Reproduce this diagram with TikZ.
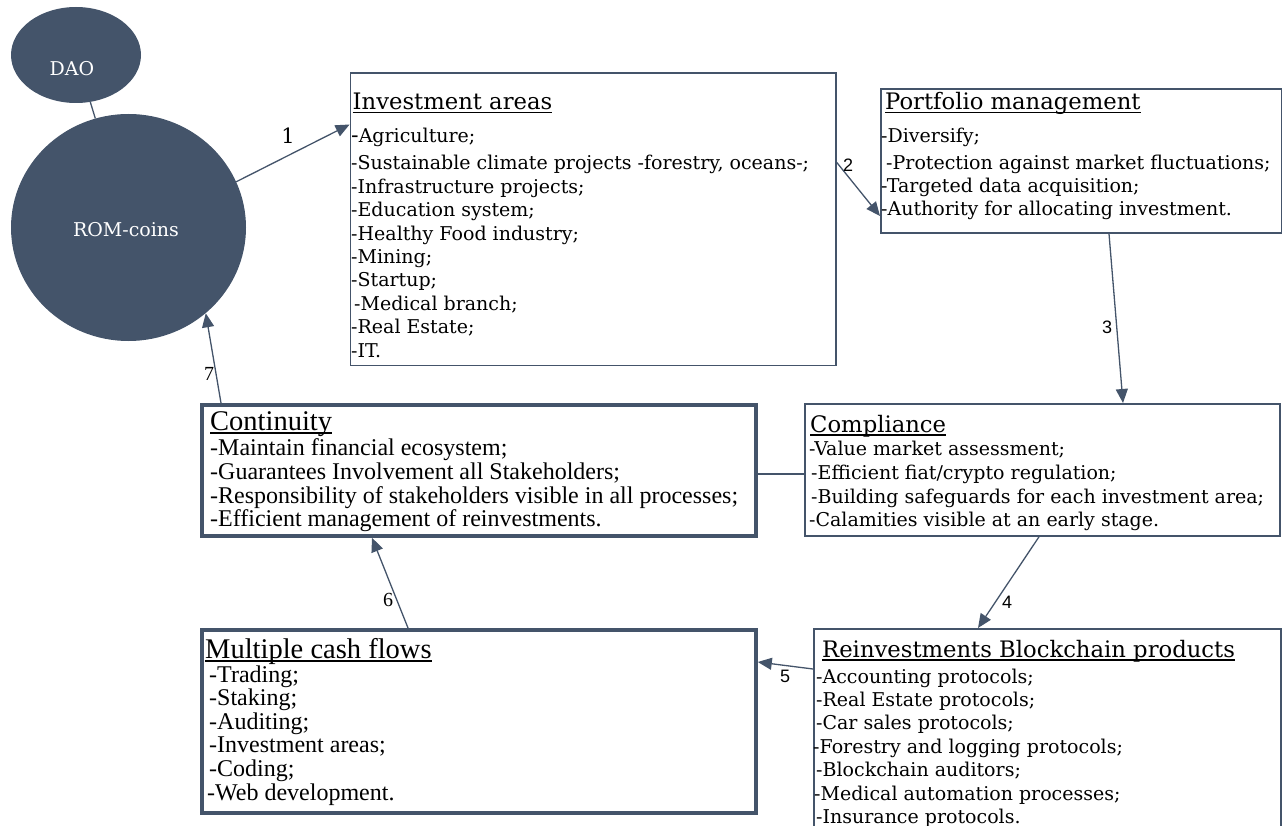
\documentclass[tikz,border=0pt]{standalone}
\usepackage{fontspec}
\setmainfont{DejaVu Serif}
\newfontfamily\tnr{Liberation Serif}
\newfontfamily\arl{Liberation Sans}
\newfontfamily\djs{DejaVu Sans}
\usetikzlibrary{arrows.meta,calc,shapes.geometric}
\definecolor{slate}{HTML}{44546A}
\newcommand\myul[1]{\setbox0\hbox{#1}\rlap{\rule[-3.5pt]{\wd0}{1.4pt}}\box0}
\begin{document}
\begin{tikzpicture}[x=1pt,y=-1pt,
  thinbox/.style={draw=slate, line width=1.8pt, fill=white, rectangle, inner sep=0, anchor=north west},
  thickbox/.style={thinbox, line width=3.8pt},
  blob/.style={ellipse, fill=slate, inner sep=0},
  conn/.style={draw=slate, line width=1.3pt},
  arr/.style={conn, -{Triangle[length=14pt,width=12pt]}},
  bk/.style={anchor=base west, inner sep=0, font=\fontsize{19}{23}\selectfont},
  bkt/.style={anchor=base west, inner sep=0, font=\fontsize{22.7}{27}\selectfont},
  tm/.style={anchor=base west, inner sep=0, font=\tnr\fontsize{24}{27}\selectfont},
  tmt/.style={anchor=base west, inner sep=0, font=\tnr\fontsize{28.5}{32}\selectfont},
  wtxt/.style={inner sep=0, text=white, font=\fontsize{19}{23}\selectfont},
  lbla/.style={inner sep=0, font=\arl\fontsize{18}{20}\selectfont},
  lblt/.style={inner sep=0, font=\tnr\fontsize{20}{22}\selectfont},
]
\useasboundingbox (0,0) rectangle (1282,826);

% boxes
\node[thinbox, minimum width=485.4pt, minimum height=292pt] (inv) at (349.6,72.5) {};
\node[thinbox, minimum width=401pt, minimum height=144pt] (pm) at (880,88) {};
\node[thinbox, minimum width=475pt, minimum height=132pt] (comp) at (804,403) {};
\node[thinbox, minimum width=467pt, minimum height=240pt] (reinv) at (813,628) {};
\node[thickbox, minimum width=554pt, minimum height=131pt] (cont) at (200,403) {};
\node[thickbox, minimum width=554pt, minimum height=183pt] (mult) at (200,628) {};

% circles
\node[blob, minimum width=130pt, minimum height=96pt] (dao) at (76,55) {};
\node[blob, minimum width=235pt, minimum height=227pt] (rom) at (128.5,227.5) {};
\node[wtxt] (daot) at (72,68.5) {DAO};
\node[wtxt] (romt) at (126,229.5) {ROM-coins};

% connectors
\draw[conn] (dao) -- (rom);
\draw[arr] (rom.23) -- ($(inv.north west)+(0,52)$);
\draw[arr] ($(inv.north east)+(0,90)$) -- ($(pm.north west)+(0,128)$);
\draw[arr] ($(pm.south west)+(229,0)$) -- ($(comp.north west)+(319,0)$);
\draw[arr] ($(comp.south west)+(235,0)$) -- ($(reinv.north west)+(165,0)$);
\draw[arr] ($(reinv.north west)+(0,41)$) -- ($(mult.north east)+(0,34)$);
\draw[arr] ($(mult.north west)+(208,0)$) -- ($(cont.south west)+(172,0)$);
\draw[arr] ($(cont.north west)+(21,0)$) -- (rom.-48.5);
\draw[conn] ($(cont.north east)+(0,71)$) -- ($(comp.north west)+(0,71)$);

% connector labels
\node[inner sep=0, font=\fontsize{21}{23}\selectfont] (l1) at (288,136) {1};
\node[lbla] (l2) at (848,165) {2};
\node[lbla] (l3) at (1107,327) {3};
\node[lbla] (l4) at (1007,602) {4};
\node[lbla] (l5) at (785,676) {5};
\node[lblt] (l6) at (388,600) {6};
\node[lblt] (l7) at (209,374) {7};

% Investment areas
\node[bkt] (invT) at (352.5,110) {\myul{Investment areas}};
\node[bk] (inv1) at (351,143) {{\djs\fontsize{21}{21}\selectfont -}Agriculture;};
\node[bk] (inv2) at (351,170) {-Sustainable climate projects -forestry, oceans-;};
\node[bk] (inv3) at (351,193.4) {-Infrastructure projects;};
\node[bk] (inv4) at (351,216.8) {-Education system;};
\node[bk] (inv5) at (351,240.1) {-Healthy Food industry;};
\node[bk] (inv6) at (351,263.5) {-Mining;};
\node[bk] (inv7) at (351,286.9) {-Startup;};
\node[bk] (inv8) at (354,310.3) {-Medical branch;};
\node[bk] (inv9) at (351,333.6) {-Real Estate;};
\node[bk] (inv10) at (351,357) {-IT.};

% Portfolio management
\node[bkt] (pmT) at (885,110) {\myul{Portfolio management}};
\node[bk] (pm1) at (881,143) {-Diversify;};
\node[bk] (pm2) at (886,170) {-Protection against market fluctuations;};
\node[bk] (pm3) at (881,193) {-Targeted data acquisition;};
\node[bk] (pm4) at (881,216) {-Authority for allocating investment.};

% Compliance
\node[bkt] (compT) at (810,432) {\myul{Compliance}};
\node[bk] (comp1) at (809,455) {-Value market assessment;};
\node[bk] (comp2) at (811,479) {-Efficient fiat/crypto regulation;};
\node[bk] (comp3) at (811,503) {-Building safeguards for each investment area;};
\node[bk] (comp4) at (809,526) {-Calamities visible at an early stage.};

% Reinvestments
\node[bkt] (reT) at (822,657) {\myul{Reinvestments Blockchain products}};
\node[bk] (re1) at (816,683) {-Accounting protocols;};
\node[bk] (re2) at (816,706.4) {-Real Estate protocols;};
\node[bk] (re3) at (816,729.8) {-Car sales protocols;};
\node[bk] (re4) at (813,753.2) {-Forestry and logging protocols;};
\node[bk] (re5) at (816,776.6) {-Blockchain auditors;};
\node[bk] (re6) at (814,800) {-Medical automation processes;};
\node[bk] (re7) at (816,823.4) {-Insurance protocols.};

% Continuity
\node[tmt] (contT) at (210,430) {\myul{Continuity}};
\node[tm] (cont1) at (210,455) {-Maintain financial ecosystem;};
\node[tm] (cont2) at (210,479) {-Guarantees Involvement all Stakeholders;};
\node[tm] (cont3) at (210,503) {-Responsibility of stakeholders visible in all processes;};
\node[tm] (cont4) at (210,526) {-Efficient management of reinvestments.};

% Multiple cash flows
\node[tmt] (multT) at (205,658) {\myul{Multiple cash flows}};
\node[tm] (mult1) at (209,682) {-Trading;};
\node[tm] (mult2) at (209,705.6) {-Staking;};
\node[tm] (mult3) at (209,729.2) {-Auditing;};
\node[tm] (mult4) at (209,752.8) {-Investment areas;};
\node[tm] (mult5) at (209,776.4) {-Coding;};
\node[tm] (mult6) at (207,800) {-Web development.};
\end{tikzpicture}
\end{document}
